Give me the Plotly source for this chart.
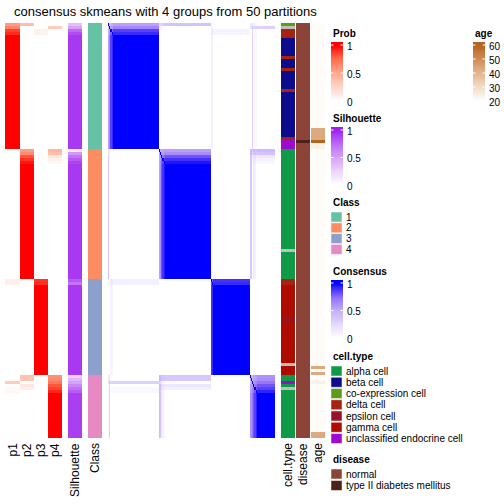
import numpy as np
import plotly.graph_objects as go

TITLE = "consensus skmeans with 4 groups from 50 partitions"
CLASS_SIZES = [42, 43, 32, 21]
CLASS_LABELS = ["1", "2", "3", "4"]
CLASS_COLORS = ["#66C2A5", "#FC8D62", "#8DA0CB", "#E78AC3"]

# leading rows of each class that are not fully assigned: [p1, p2, p3, p4, silhouette]
LEAD_ROWS = [
    [[0.55, 0.38, 0.00, 0.02, 0.35], [0.65, 0.00, 0.00, 0.30, 0.50],
     [0.85, 0.00, 0.08, 0.00, 0.75], [0.90, 0.00, 0.07, 0.00, 0.85]],
    [[0.00, 0.55, 0.00, 0.42, 0.10], [0.00, 0.62, 0.00, 0.38, 0.55],
     [0.00, 0.80, 0.00, 0.15, 0.70], [0.00, 0.88, 0.00, 0.08, 0.80],
     [0.00, 0.95, 0.00, 0.05, 0.88]],
    [[0.10, 0.00, 0.88, 0.00, 0.80], [0.10, 0.00, 0.90, 0.00, 0.70]],
    [[0.00, 0.35, 0.00, 0.60, 0.25], [0.00, 0.35, 0.00, 0.62, 0.40],
     [0.30, 0.00, 0.00, 0.70, 0.50], [0.00, 0.15, 0.00, 0.80, 0.62],
     [0.04, 0.10, 0.00, 0.85, 0.72], [0.05, 0.00, 0.00, 0.92, 0.80]],
]
PURE_SILHOUETTE = [0.92, 0.92, 0.92, 0.90]

CELL_TYPES = ["alpha cell", "beta cell", "co-expression cell", "delta cell",
              "epsilon cell", "gamma cell", "unclassified endocrine cell"]
CELL_COLORS = ["#0F9A48", "#0C0C8C", "#5B9C1A", "#A8230F", "#98122A", "#AF0C00", "#9C0BCE"]
NA_COLOR = "#BEBEBE"
CELL_RUNS = [
    ("co-expression cell", 1), (None, 1), ("delta cell", 3), ("beta cell", 6),
    ("delta cell", 1), ("beta cell", 3), ("delta cell", 1), ("beta cell", 6),
    ("delta cell", 1), ("beta cell", 15), ("delta cell", 1),
    ("unclassified endocrine cell", 3),
    ("alpha cell", 33), (None, 1), ("alpha cell", 9),
    ("delta cell", 2), ("gamma cell", 11), ("epsilon cell", 1), ("gamma cell", 14),
    (None, 1), ("gamma cell", 3),
    ("alpha cell", 2), ("unclassified endocrine cell", 1), ("alpha cell", 1),
    (None, 1), ("alpha cell", 16),
]
DISEASES = ["normal", "type II diabetes mellitus"]
DISEASE_COLORS = ["#8B4437", "#4B2119"]
DISEASE_RUNS = [("normal", 39), ("type II diabetes mellitus", 1), ("normal", 98)]
AGE_RUNS = [(21, 35), (43, 4), (60, 1), (24, 2), (21, 72), (43, 1), (21, 1), (43, 1),
            (21, 2), (24, 1), (21, 16), (43, 2)]

PROB_SCALE = [[0, "#FFFFFF"], [0.25, "#FFD5C8"], [0.5, "#FFA88E"], [0.75, "#FF6C4E"], [1, "#FF0000"]]
SIL_SCALE = [[0, "#FFFFFF"], [0.25, "#EDD3FC"], [0.5, "#D6A2F8"], [0.75, "#BD6AF4"], [1, "#A020F0"]]
CONS_SCALE = [[0, "#FFFFFF"], [0.25, "#E3D9FE"], [0.5, "#C3ADFC"], [0.75, "#8F6AF8"], [1, "#0000FF"]]
AGE_SCALE = [[0, "#FFFFFF"], [0.25, "#F3DBC7"], [0.5, "#E3B58F"], [0.75, "#CE8C56"], [1, "#B6631D"]]

FONT = "Liberation Sans, Arial, Helvetica, sans-serif"

# ---------- build per-row data ----------
P_rows, sil_rows, cls_rows = [], [], []
for k, n in enumerate(CLASS_SIZES):
    lead = LEAD_ROWS[k]
    for i in range(n):
        if i < len(lead):
            P_rows.append(lead[i][:4]); sil_rows.append(lead[i][4])
        else:
            r = [0.0] * 4; r[k] = 1.0
            P_rows.append(r); sil_rows.append(PURE_SILHOUETTE[k])
        cls_rows.append(k)
P = np.array(P_rows)
N = len(P)
sil = np.array(sil_rows)
cls = np.array(cls_rows)

cons = P @ P.T
np.fill_diagonal(cons, 1.0)

cell_codes = []
for name, n in CELL_RUNS:
    cell_codes += [len(CELL_TYPES) if name is None else CELL_TYPES.index(name)] * n
dis_codes = []
for name, n in DISEASE_RUNS:
    dis_codes += [DISEASES.index(name)] * n
ages = []
for v, n in AGE_RUNS:
    ages += [v] * n

# ---------- layout constants (pixels) ----------
W = H = 504
TOP, BOTTOM = 23, 438
TRACKS = {"p1": (5, 20), "p2": (20, 34), "p3": (34, 48), "p4": (48, 62),
          "Silhouette": (68, 82), "Class": (88, 102), "consensus": (108, 275),
          "cell.type": (281, 295), "disease": (296, 310), "age": (311, 325)}
yedges = np.arange(N + 1)


def discrete_scale(colors):
    n = len(colors)
    sc = []
    for i, c in enumerate(colors):
        sc.append([i / n, c]); sc.append([(i + 1) / n, c])
    return sc


fig = go.Figure()


def col_track(name, z, scale, zmin, zmax):
    x0, x1 = TRACKS[name]
    fig.add_trace(go.Heatmap(z=np.array(z, dtype=float).reshape(-1, 1), x=[x0, x1], y=yedges,
                             colorscale=scale, zmin=zmin, zmax=zmax, showscale=False,
                             hoverinfo="skip", xaxis="x", yaxis="y"))


for j in range(4):
    col_track("p%d" % (j + 1), P[:, j], PROB_SCALE, 0, 1)
col_track("Silhouette", sil, SIL_SCALE, 0, 1)
col_track("Class", cls, discrete_scale(CLASS_COLORS), -0.5, 3.5)
col_track("cell.type", cell_codes, discrete_scale(CELL_COLORS + [NA_COLOR]), -0.5, len(CELL_TYPES) + 0.5)
col_track("disease", dis_codes, discrete_scale(DISEASE_COLORS), -0.5, 1.5)
col_track("age", ages, AGE_SCALE, 20, 60)

cx0, cx1 = TRACKS["consensus"]
fig.add_trace(go.Heatmap(z=cons, x=np.linspace(cx0, cx1, N + 1), y=yedges,
                         colorscale=CONS_SCALE, zmin=0, zmax=1, showscale=False,
                         hoverinfo="skip", xaxis="x", yaxis="y"))

annotations = []
shapes = []


def text(x, y, s, size=10, bold=False, xanchor="left", yanchor="middle", angle=0):
    annotations.append(dict(x=x, y=y, xref="x", yref="y2", text=("<b>%s</b>" % s) if bold else s,
                            showarrow=False, xanchor=xanchor, yanchor=yanchor, textangle=angle,
                            font=dict(family=FONT, size=size, color="#000000")))


# title
text(165, 11, TITLE, size=13, xanchor="center")

# bottom labels
for name in ["p1", "p2", "p3", "p4", "Silhouette", "Class", "cell.type", "disease", "age"]:
    x0, x1 = TRACKS[name]
    text((x0 + x1) / 2, 441, name, size=12, xanchor="center", yanchor="top", angle=-90)


def gradient_legend(title, x0, top_tick, bottom_tick, ticks, vmin, vmax, scale):
    x1 = x0 + 12
    text(x0 - 0.5, top_tick - 11.5, title, bold=True)
    ys = np.linspace(top_tick - 3, bottom_tick + 2, 66)
    centers = (ys[:-1] + ys[1:]) / 2
    vals = vmax - (centers - top_tick) / (bottom_tick - top_tick) * (vmax - vmin)
    vals = np.clip(vals, vmin, vmax)
    fig.add_trace(go.Heatmap(z=vals.reshape(-1, 1), x=[x0, x1], y=ys, colorscale=scale,
                             zmin=vmin, zmax=vmax, showscale=False, hoverinfo="skip",
                             xaxis="x", yaxis="y2"))
    for t in ticks:
        ty = top_tick + (vmax - t) / (vmax - vmin) * (bottom_tick - top_tick)
        for a, b in [(x0, x0 + 2.5), (x1 - 2.5, x1)]:
            shapes.append(dict(type="line", xref="x", yref="y2", x0=a, x1=b, y0=ty, y1=ty,
                               line=dict(color="white", width=1)))
        text(x1 + 2, ty + 1, "%g" % t)


def discrete_legend(title, x0, title_y, first_center, step, labels, colors):
    text(x0 - 0.5, title_y, title, bold=True)
    for i, (lab, c) in enumerate(zip(labels, colors)):
        cy = first_center + i * step
        shapes.append(dict(type="rect", xref="x", yref="y2", x0=x0, x1=x0 + 11,
                           y0=cy - 5, y1=cy + 5, fillcolor=c, line=dict(color="white", width=0.5)))
        text(x0 + 13, cy, lab)


LX = 331
gradient_legend("Prob", LX, 45, 101, [0, 0.5, 1], 0, 1, PROB_SCALE)
gradient_legend("Silhouette", LX, 130, 185, [0, 0.5, 1], 0, 1, SIL_SCALE)
discrete_legend("Class", LX, 202, 217, 10.8, CLASS_LABELS, CLASS_COLORS)
gradient_legend("Consensus", LX, 283, 338, [0, 0.5, 1], 0, 1, CONS_SCALE)
discrete_legend("cell.type", LX, 356, 371, 11.25, CELL_TYPES, CELL_COLORS)
discrete_legend("disease", LX, 459, 474, 11.5, DISEASES, DISEASE_COLORS)
gradient_legend("age", 473, 45, 101, [20, 30, 40, 50, 60], 20, 60, AGE_SCALE)

fig.update_layout(
    width=W, height=H, margin=dict(l=0, r=0, t=0, b=0),
    paper_bgcolor="white", plot_bgcolor="rgba(0,0,0,0)", showlegend=False,
    xaxis=dict(range=[0, W], domain=[0, 1], visible=False, fixedrange=True),
    yaxis=dict(range=[N, 0], domain=[1 - BOTTOM / H, 1 - TOP / H], visible=False,
               anchor="x", fixedrange=True),
    yaxis2=dict(range=[H, 0], domain=[0, 1], visible=False, anchor="x", fixedrange=True),
    annotations=annotations, shapes=shapes,
)

fig.write_html("out.html", config={"displayModeBar": False, "staticPlot": True},
               post_script="document.body.style.margin='0';")
